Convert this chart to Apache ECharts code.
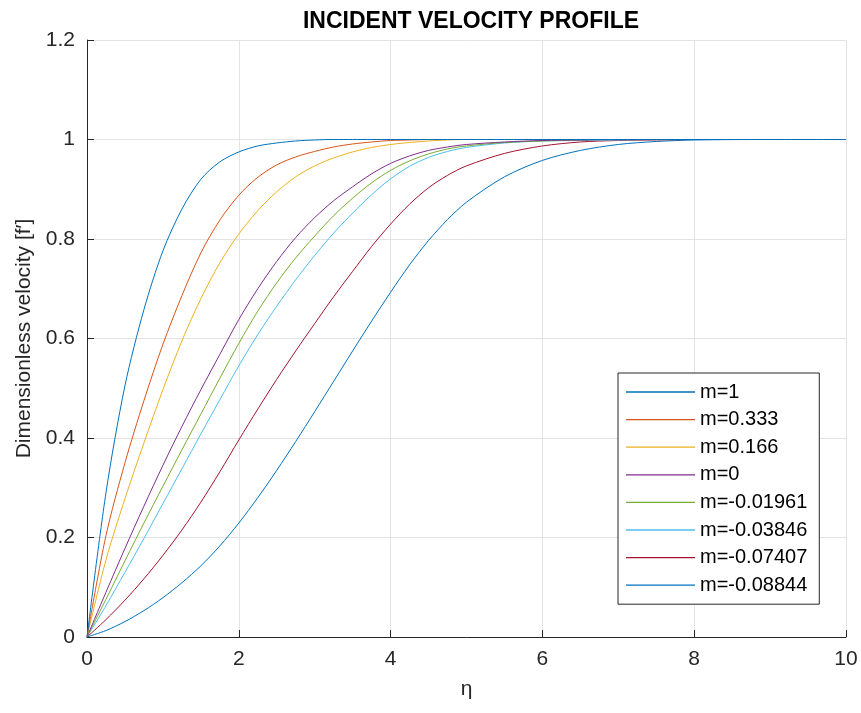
<!DOCTYPE html>
<html>
<head>
<meta charset="utf-8">
<title>Incident velocity profile</title>
<script src="https://cdn.jsdelivr.net/npm/echarts@6/dist/echarts.min.js"></script>
<style>
  html, body { margin: 0; padding: 0; background: #fff; }
  #main { width: 861px; height: 713px; }
</style>
</head>
<body>
<div id="main"></div>
<script>
// eta grid shared by all curves
var eta = [0, 0.25, 0.5, 0.75, 1, 1.25, 1.5, 1.75, 2, 2.25, 2.5, 2.75, 3, 3.25, 3.5, 3.75, 4, 4.25, 4.5, 4.75, 5, 5.5, 6, 6.5, 7, 7.5, 8, 9, 10];

// f' values, one list per m
var m1      = [0, 0.29, 0.505, 0.658, 0.776, 0.86, 0.92, 0.955, 0.975, 0.987, 0.993, 0.997, 0.999, 1, 1, 1, 1, 1, 1, 1, 1, 1, 1, 1, 1, 1, 1, 1, 1];
var m0333   = [0, 0.204, 0.35, 0.475, 0.588, 0.686, 0.772, 0.838, 0.888, 0.924, 0.949, 0.965, 0.976, 0.985, 0.991, 0.995, 0.998, 0.999, 1, 1, 1, 1, 1, 1, 1, 1, 1, 1, 1];
var m0166   = [0, 0.155, 0.278, 0.39, 0.497, 0.595, 0.68, 0.752, 0.81, 0.857, 0.895, 0.925, 0.947, 0.963, 0.975, 0.984, 0.99, 0.994, 0.997, 0.999, 1, 1, 1, 1, 1, 1, 1, 1, 1];
var m0      = [0, 0.09, 0.178, 0.263, 0.345, 0.423, 0.497, 0.568, 0.638, 0.70, 0.755, 0.803, 0.843, 0.877, 0.905, 0.931, 0.952, 0.967, 0.978, 0.985, 0.99, 0.995, 0.998, 0.999, 1, 1, 1, 1, 1];
var m_01961 = [0, 0.076, 0.153, 0.229, 0.303, 0.376, 0.448, 0.52, 0.59, 0.655, 0.712, 0.762, 0.806, 0.847, 0.882, 0.913, 0.938, 0.957, 0.971, 0.981, 0.987, 0.994, 0.997, 0.999, 1, 1, 1, 1, 1];
var m_03846 = [0, 0.063, 0.13, 0.198, 0.268, 0.338, 0.408, 0.477, 0.545, 0.608, 0.665, 0.718, 0.767, 0.812, 0.852, 0.889, 0.921, 0.946, 0.964, 0.976, 0.984, 0.993, 0.997, 0.998, 0.999, 1, 1, 1, 1];
var m_07407 = [0, 0.035, 0.074, 0.117, 0.164, 0.215, 0.271, 0.332, 0.396, 0.458, 0.518, 0.575, 0.63, 0.684, 0.735, 0.785, 0.83, 0.87, 0.903, 0.928, 0.947, 0.972, 0.987, 0.995, 0.998, 0.999, 1, 1, 1];
var m_08844 = [0, 0.013, 0.031, 0.053, 0.079, 0.109, 0.143, 0.183, 0.229, 0.28, 0.335, 0.393, 0.453, 0.514, 0.575, 0.635, 0.693, 0.748, 0.797, 0.839, 0.874, 0.925, 0.958, 0.978, 0.99, 0.996, 0.999, 1, 1];

var names = ['m=1', 'm=0.333', 'm=0.166', 'm=0', 'm=-0.01961', 'm=-0.03846', 'm=-0.07407', 'm=-0.08844'];
var curves = [m1, m0333, m0166, m0, m_01961, m_03846, m_07407, m_08844];
var colors = ['#0072BD', '#D95319', '#EDB120', '#7E2F8E', '#77AC30', '#4DBEEE', '#A2142F', '#0072BD'];

var txt = '#262626';
var font = 'Liberation Sans, Arial, Helvetica, sans-serif';

var series = [];
for (var i = 0; i < curves.length; i++) {
  series.push({
    name: names[i],
    type: 'line',
    data: eta.map(function (x, j) { return [x, curves[i][j]]; }),
    symbol: 'none',
    smooth: 0.3,
    lineStyle: { width: 1, color: colors[i] },
    itemStyle: { color: colors[i] },
    z: 10 - i
  });
}

var chart = echarts.init(document.getElementById('main'));
chart.setOption({
  animation: false,
  backgroundColor: '#fff',
  title: {
    text: 'INCIDENT VELOCITY PROFILE',
    left: 466, top: 5,
    textAlign: 'center',
    textStyle: { fontFamily: font, fontSize: 23, fontWeight: 'bold', color: '#000' }
  },
  grid: { left: 87, right: 15, top: 40, bottom: 76 },
  legend: {
    orient: 'vertical',
    left: 618, top: 373,
    data: names,
    icon: 'rect',
    itemWidth: 69, itemHeight: 1.3, itemGap: 7.6,
    padding: [9, 12, 9, 8],
    backgroundColor: '#fff',
    borderColor: txt, borderWidth: 1, borderRadius: 0,
    textStyle: { fontFamily: font, fontSize: 20, color: '#000', lineHeight: 20 }
  },
  xAxis: {
    type: 'value', min: 0, max: 10, interval: 2,
    name: 'η', nameLocation: 'middle', nameGap: 42,
    nameTextStyle: { fontFamily: font, fontSize: 21, color: txt },
    axisLine: { onZero: false, lineStyle: { color: txt, width: 1 } },
    axisTick: { inside: true, length: 7, lineStyle: { color: txt } },
    axisLabel: { fontFamily: font, fontSize: 21, color: txt, margin: 12 },
    splitLine: { show: true, lineStyle: { color: '#e3e3e3', width: 1 } }
  },
  yAxis: {
    type: 'value', min: 0, max: 1.2, interval: 0.2,
    name: 'Dimensionless velocity [f′]', nameLocation: 'middle', nameGap: 52,
    nameTextStyle: { fontFamily: font, fontSize: 21, color: txt },
    axisLine: { show: true, lineStyle: { color: txt, width: 1 } },
    axisTick: { show: true, inside: true, length: 7, lineStyle: { color: txt } },
    axisLabel: { fontFamily: font, fontSize: 21, color: txt, margin: 12 },
    splitLine: { show: true, lineStyle: { color: '#e3e3e3', width: 1 } }
  },
  series: series
});
</script>
</body>
</html>
